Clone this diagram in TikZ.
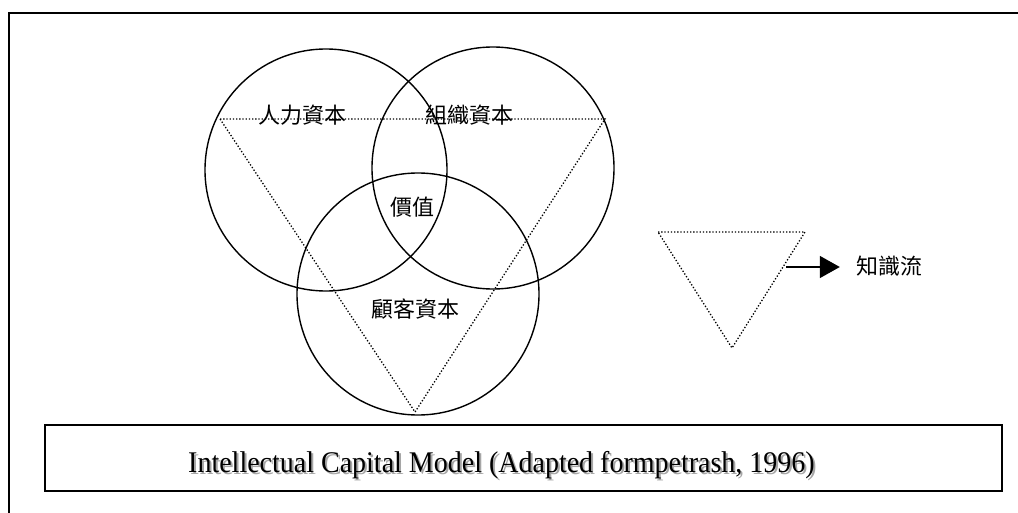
\documentclass[tikz,border=0pt]{standalone}
\usepackage{fontspec}
\usepackage{graphicx}
\setmainfont{Liberation Serif}
\newfontfamily\cjk{Noto Sans CJK TC}
\usetikzlibrary{arrows.meta}

\begin{document}
\begin{tikzpicture}[x=1pt,y=-1pt,
  capital/.style={circle,draw,line width=1.4pt,minimum size=242pt,inner sep=0pt},
  flowline/.style={line width=1.3pt,dash pattern=on 1.3pt off 1.9pt},
  zhlabel/.style={font=\cjk\fontsize{22}{22}\selectfont,inner sep=0pt},
  captionfont/.style={font=\fontsize{30}{30}\selectfont,inner sep=0pt,anchor=base west}]
  \useasboundingbox (0,0) rectangle (1018,513);
  \draw[line width=2pt] (1018,13) -- (9,13) -- (9,513);
  % the three capitals
  \node[capital] (human)    at (326,170) {};
  \node[capital] (struct)   at (493,168) {};
  \node[capital] (customer) at (418,294) {};
  % knowledge flow
  \coordinate (A) at (220,119); \coordinate (B) at (605,119); \coordinate (C) at (415,412);
  \draw[flowline] (A) -- (B) -- (C) -- cycle;
  \node[zhlabel] (hl) at (302,115) {人力資本};
  \node[zhlabel] (sl) at (469,115) {組織資本};
  \node[zhlabel] (vl) at (412,207) {價值};
  \node[zhlabel] (cl) at (415,309) {顧客資本};
  % legend
  \coordinate (D) at (658,232); \coordinate (E) at (805,232); \coordinate (F) at (732,348);
  \draw[flowline] (D) -- (E) -- (F) -- cycle;
  \coordinate (out) at (786,267);
  \node[zhlabel] (know) at (889,266) {知識流};
  \draw[line width=1.5pt,-{Triangle[length=20pt,width=22pt]},shorten >=16pt] (out) -- (out -| know.west);
  % caption
  \node[draw,line width=2pt,minimum width=957pt,minimum height=66pt,inner sep=0pt] (capbox) at (523.5,458) {};
  \node[captionfont,text=black!35] (capshadow) at (190,474)
    {\scalebox{0.933}[1]{Intellectual Capital Model (Adapted formpetrash, 1996)}};
  \node[captionfont] (captext) at (188,472)
    {\scalebox{0.933}[1]{Intellectual Capital Model (Adapted formpetrash, 1996)}};
\end{tikzpicture}
\end{document}
